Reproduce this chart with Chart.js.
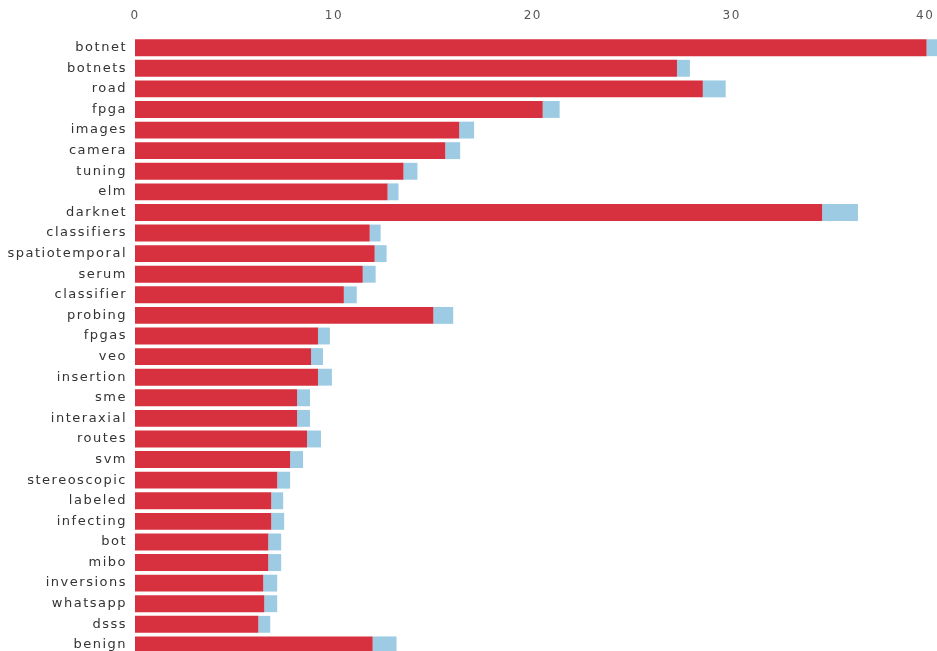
<!DOCTYPE html>
<html>
<head>
    <title>Term frequency</title>
    <script src="https://cdn.jsdelivr.net/npm/chart.js"></script>
    <style>
        html, body { margin: 0; padding: 0; background: #fff; overflow: hidden; }
        canvas { display: block; margin-top: -9px; }
    </style>
</head>
<body>
    <canvas id="termChart" width="956" height="680"></canvas>
    <script type="text/javascript">
        var terms = ['botnet', 'botnets', 'road', 'fpga', 'images', 'camera', 'tuning', 'elm',
            'darknet', 'classifiers', 'spatiotemporal', 'serum', 'classifier', 'probing', 'fpgas',
            'veo', 'insertion', 'sme', 'interaxial', 'routes', 'svm', 'stereoscopic', 'labeled',
            'infecting', 'bot', 'mibo', 'inversions', 'whatsapp', 'dsss', 'benign'];
        var redValues = [39.8, 27.25, 28.55, 20.5, 16.3, 15.6, 13.5, 12.7,
            34.55, 11.8, 12.05, 11.45, 10.5, 15.0, 9.2,
            8.85, 9.2, 8.15, 8.15, 8.65, 7.8, 7.15, 6.85,
            6.85, 6.7, 6.7, 6.45, 6.5, 6.2, 11.95];
        var blueValues = [0.55, 0.65, 1.15, 0.85, 0.75, 0.75, 0.7, 0.55,
            1.8, 0.55, 0.6, 0.65, 0.65, 1.0, 0.6,
            0.6, 0.7, 0.65, 0.65, 0.7, 0.65, 0.65, 0.6,
            0.65, 0.65, 0.65, 0.7, 0.65, 0.6, 1.2];
        var xTicks = [0, 10, 20, 30, 40];

        // the original labels are set wide, so space the letters a bit
        var wideText = {
            id: 'wideText',
            beforeDraw: function(chart) {
                chart.ctx.letterSpacing = '1.5px';
            }
        };

        var ctx = document.getElementById('termChart').getContext('2d');
        var chart = new Chart(ctx, {
            type: 'bar',
            data: {
                labels: terms,
                datasets: [{
                    data: redValues,
                    backgroundColor: '#d7303f',
                    barPercentage: 0.82,
                    categoryPercentage: 1
                }, {
                    data: blueValues,
                    backgroundColor: '#9ccbe3',
                    barPercentage: 0.82,
                    categoryPercentage: 1,
                    clip: false
                }]
            },
            options: {
                indexAxis: 'y',
                responsive: false,
                animation: false,
                layout: { padding: { top: 4, right: 0, bottom: 2, left: 0 } },
                plugins: {
                    legend: { display: false },
                    tooltip: { enabled: false }
                },
                scales: {
                    x: {
                        position: 'top',
                        stacked: true,
                        min: xTicks[0],
                        max: xTicks[xTicks.length - 1],
                        border: { display: false },
                        grid: { display: false, drawTicks: false },
                        afterBuildTicks: function(axis) {
                            axis.ticks = xTicks.map(v => ({ value: v }));
                        },
                        ticks: {
                            padding: 14,
                            color: '#555',
                            font: { family: 'DejaVu Sans', size: 12 },
                            // keep the last label inside the page edge
                            callback: function(value) {
                                return value === xTicks[xTicks.length - 1] ? value + '  ' : value;
                            }
                        }
                    },
                    y: {
                        stacked: true,
                        border: { display: false },
                        grid: { display: false, drawTicks: false },
                        afterFit: function(axis) {
                            axis.width = 135;
                        },
                        ticks: {
                            padding: 8,
                            color: '#333',
                            font: { family: 'DejaVu Sans', size: 13 }
                        }
                    }
                }
            },
            plugins: [wideText]
        });
    </script>
</body>
</html>
